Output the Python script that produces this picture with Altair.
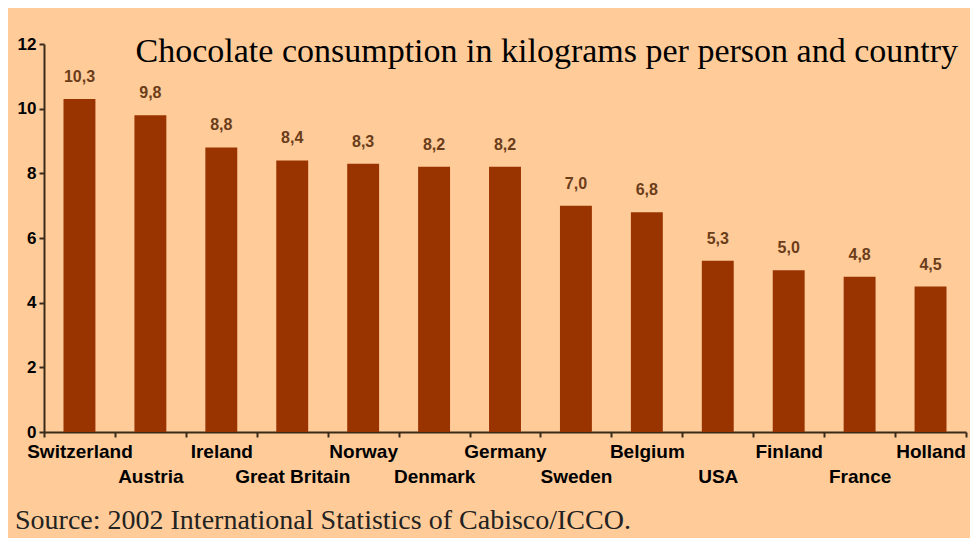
import json
import altair as alt
import pandas as pd

countries = ["Switzerland", "Austria", "Ireland", "Great Britain", "Norway", "Denmark",
             "Germany", "Sweden", "Belgium", "USA", "Finland", "France", "Holland"]
consumption = [10.3, 9.8, 8.8, 8.4, 8.3, 8.2, 8.2, 7.0, 6.8, 5.3, 5.0, 4.8, 4.5]
y_ticks = [0, 2, 4, 6, 8, 10, 12]
title_text = "Chocolate consumption in kilograms per person and country"
source_text = "Source: 2002 International Statistics of Cabisco/ICCO."

df = pd.DataFrame({"country": countries, "kg": consumption})
second_row = countries[1::2]

BG = "#FFCC99"
BAR = "#993300"
AXIS = "#3a2a1a"

W, H = 922, 388

label_expr = ("indexof(" + json.dumps(second_row) +
              ", datum.value) >= 0 ? ['', datum.value] : datum.value")

x_enc = alt.X("country:N", sort=countries, title=None,
              scale=alt.Scale(paddingInner=0, paddingOuter=0),
              axis=alt.Axis(labelAngle=0, labelExpr=label_expr, labelLineHeight=25,
                            labelFont="Liberation Sans", labelFontSize=19,
                            labelFontWeight="bold", labelColor="black",
                            labelPadding=5, tickBand="extent", tickSize=5,
                            tickColor=AXIS, tickWidth=2, domainColor=AXIS,
                            domainWidth=2, labelOverlap=False, labelBaseline="top"))
y_enc = alt.Y("kg:Q", title=None,
              scale=alt.Scale(domain=[0, 12], nice=False),
              axis=alt.Axis(values=y_ticks, grid=False, labelFont="Liberation Sans",
                            labelFontSize=17, labelFontWeight="bold", labelColor="black",
                            labelPadding=3, tickSize=5, tickColor=AXIS, tickWidth=2,
                            domainColor=AXIS, domainWidth=2))

bars = alt.Chart(df).mark_bar(color=BAR, width=alt.RelativeBandSize(0.45)).encode(
    x=x_enc, y=y_enc)

values = alt.Chart(df).transform_calculate(
    lbl="replace(format(datum.kg, '.1f'), '.', ',')"
).mark_text(font="Liberation Sans", fontSize=16, fontWeight="bold",
            color="#6b3d1a", baseline="bottom", dy=-14).encode(
    x=alt.X("country:N", sort=countries),
    y=alt.Y("kg:Q"),
    text="lbl:N")

title = alt.Chart(pd.DataFrame({"t": [title_text]})).mark_text(
    font="Liberation Serif", fontSize=34, color="black", align="right",
    baseline="alphabetic").encode(
    x=alt.value(W - 8), y=alt.value(18), text="t:N")

source = alt.Chart(pd.DataFrame({"s": [source_text]})).mark_text(
    font="Liberation Serif", fontSize=28, color="#222222", align="left",
    baseline="alphabetic").encode(
    x=alt.value(-29), y=alt.value(H + 97), text="s:N")

chart = alt.layer(bars, values, title, source).properties(
    width=W, height=H,
    background=BG,
    padding={"left": 36, "top": 36, "right": 4, "bottom": 106},
    autosize=alt.AutoSizeParams(type="none"),
).configure_view(stroke=None)

chart.save("out.html", embed_options={"renderer": "svg", "actions": False})
